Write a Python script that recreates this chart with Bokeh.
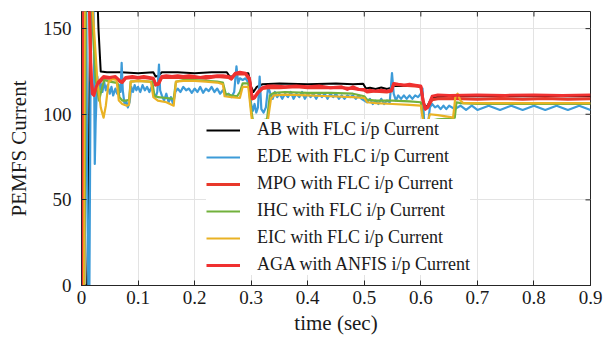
from bokeh.plotting import figure
from bokeh.models import Legend, LegendItem, FixedTicker
from bokeh.embed import file_html
from bokeh.resources import INLINE

# ---------------- data ----------------
x_ticks = [0, 0.1, 0.2, 0.3, 0.4, 0.5, 0.6, 0.7, 0.8, 0.9]
x_tick_labels = ["0", "0.1", "0.2", "0.3", "0.4", "0.5", "0.6", "0.7", "0.8", "0.9"]
y_ticks = [0, 50, 100, 150]
y_tick_labels = ["0", "50", "100", "150"]
x_title = "time (sec)"
y_title = "PEMFS Current"

series_names = ["AB with FLC i/p Current", "EDE with FLC i/p Current",
                "MPO with FLC i/p Current", "IHC with FLC i/p Current",
                "EIC with FLC i/p Current", "AGA with ANFIS i/p Current"]

ab_t = [0, 0.010, 0.013, 0.016, 0.025, 0.030, 0.034, 0.045, 0.07, 0.10, 0.127, 0.131, 0.136, 0.142,
        0.17, 0.20, 0.23, 0.257, 0.262, 0.268, 0.272, 0.295, 0.300, 0.304, 0.31, 0.32, 0.35, 0.40,
        0.45, 0.48, 0.498, 0.503, 0.51, 0.52, 0.53, 0.54, 0.548, 0.552, 0.58, 0.60, 0.605, 0.61,
        0.62, 0.65, 0.7, 0.8, 0.9]
ab_v = [0, 0, 60, 200, 200, 150, 125, 124.5, 124.5, 124, 124.5, 122, 122.5, 124.5,
        124.5, 124, 124.5, 124.5, 122, 122, 124, 124, 116, 113, 116, 117.5, 118, 117.5,
        118, 117.5, 117.8, 115, 115.5, 114.8, 115.6, 114.8, 115.5, 116.5, 116.5, 116.5, 106, 104,
        110, 110.5, 110.5, 110.5, 110.5]

ede_t = [0, 0.002, 0.004, 0.008, 0.010, 0.012, 0.014, 0.016, 0.018, 0.020, 0.022, 0.0235, 0.025,
         0.028, 0.031, 0.034, 0.037, 0.040, 0.043, 0.046, 0.05, 0.053, 0.056, 0.06, 0.063, 0.066,
         0.069, 0.071, 0.073, 0.076, 0.079, 0.082, 0.085, 0.088, 0.091, 0.094, 0.097, 0.10, 0.104,
         0.108, 0.112, 0.116, 0.12, 0.124, 0.128, 0.131, 0.134, 0.137, 0.139, 0.142, 0.146, 0.15,
         0.154, 0.158, 0.162, 0.166, 0.17, 0.175, 0.18, 0.185, 0.19, 0.195, 0.20, 0.205, 0.21,
         0.215, 0.22, 0.225, 0.23, 0.235, 0.24, 0.245, 0.25, 0.255, 0.26, 0.265, 0.27, 0.274,
         0.277, 0.28, 0.285, 0.29, 0.296, 0.30, 0.303, 0.306, 0.309, 0.312, 0.315, 0.318, 0.322,
         0.326, 0.33, 0.334, 0.338, 0.342, 0.346, 0.35, 0.355, 0.36, 0.365, 0.37, 0.375, 0.38,
         0.385, 0.39, 0.395, 0.40, 0.405, 0.41, 0.415, 0.42, 0.425, 0.43, 0.435, 0.44, 0.445,
         0.45, 0.455, 0.46, 0.465, 0.47, 0.475, 0.48, 0.485, 0.49, 0.495, 0.50, 0.505, 0.51,
         0.515, 0.52, 0.525, 0.53, 0.535, 0.54, 0.545, 0.549, 0.552, 0.556, 0.56, 0.565, 0.57,
         0.575, 0.58, 0.585, 0.59, 0.595, 0.60, 0.603, 0.606, 0.609, 0.612, 0.616, 0.62, 0.625,
         0.63, 0.635, 0.64, 0.645, 0.65, 0.66, 0.67, 0.68, 0.69, 0.70, 0.72, 0.74, 0.76, 0.78,
         0.80, 0.82, 0.84, 0.86, 0.88, 0.90]
ede_v = [0, 150, 200, 200, 60, 0, 0, 120, 200, 200, 140, 71, 95,
         122, 112, 118, 113, 119, 114, 117, 112, 116, 111, 115, 112, 117,
         113, 130, 114, 106, 108, 104, 107, 116, 113, 117, 114, 116, 113,
         117, 114, 116, 113, 116, 112, 110, 113, 129, 114, 111, 108, 112,
         107, 110, 106, 113, 115, 113, 116, 114, 115, 112.5, 115, 113, 116,
         112.5, 115, 113.5, 116, 113, 115, 112, 114, 111, 112, 110, 113, 128,
         118, 121, 120, 121, 118, 106, 102, 106, 101, 104, 122, 103, 101,
         104, 116, 112, 109, 113, 110, 112, 109, 112, 110, 113, 109, 112,
         110, 113, 109, 112, 110, 112, 109, 112, 110, 112, 109, 112, 110,
         112, 109, 111, 109, 111, 110, 111, 109, 111, 109, 108, 107, 109,
         106, 108, 106, 109, 106, 108, 107, 124, 112, 108, 111, 109, 111,
         109, 111, 109, 111, 110, 112, 115, 95, 88, 92, 104, 106, 104,
         105, 103, 105, 103, 105, 103, 105, 102.5, 105, 102.5, 105, 102.5, 105, 102.5,
         105, 102.5, 105, 102.5, 105, 102.5]

mpo_t = [0, 0.004, 0.006, 0.012, 0.017, 0.020, 0.025, 0.030, 0.039, 0.05, 0.06, 0.068, 0.072,
         0.078, 0.09, 0.10, 0.11, 0.12, 0.127, 0.131, 0.136, 0.142, 0.16, 0.18, 0.20, 0.22, 0.24,
         0.26, 0.265, 0.272, 0.29, 0.297, 0.302, 0.306, 0.312, 0.32, 0.33, 0.35, 0.38, 0.40, 0.43,
         0.46, 0.48, 0.50, 0.505, 0.52, 0.54, 0.548, 0.552, 0.57, 0.59, 0.60, 0.604, 0.608, 0.612,
         0.62, 0.63, 0.66, 0.70, 0.74, 0.78, 0.82, 0.86, 0.9]
mpo_v = [0, 0, 200, 200, 120, 113, 114, 118, 121, 121, 121.5, 119, 118.5,
         121, 121.5, 121, 121.5, 121, 120.5, 117, 117.5, 121.5, 121.5, 121.5, 121.5, 121, 122,
         121.5, 120.5, 123.5, 123.5, 120, 109, 109.5, 112.5, 115, 115.5, 115.5, 116, 115.5, 115.5,
         115.5, 115, 114, 113, 113.5, 113, 113.5, 117.5, 117, 116.5, 116, 107.5, 103, 104,
         108.5, 109, 109.2, 108.8, 109.2, 108.8, 109.2, 108.8, 109]

ihc_t = [0, 0.005, 0.008, 0.014, 0.02, 0.025, 0.031, 0.036, 0.040, 0.05, 0.06, 0.064, 0.067, 0.072,
         0.08, 0.084, 0.087, 0.10, 0.12, 0.125, 0.129, 0.135, 0.15, 0.163, 0.167, 0.18, 0.20, 0.22,
         0.24, 0.25, 0.255, 0.265, 0.275, 0.28, 0.285, 0.295, 0.30, 0.303, 0.31, 0.32, 0.328,
         0.333, 0.34, 0.36, 0.40, 0.44, 0.48, 0.50, 0.505, 0.52, 0.55, 0.58, 0.60, 0.604, 0.608,
         0.615, 0.63, 0.65, 0.66, 0.663, 0.67, 0.7, 0.8, 0.9]
ihc_v = [0, 0, 200, 200, 150, 120, 108, 115, 120, 119, 118.5, 118, 110, 108,
         108, 108.5, 119, 119.5, 119, 119, 111, 110, 109.5, 109, 119, 120, 120, 119.5,
         119, 118.5, 112, 111, 110.5, 113, 118, 118, 103, 96.5, 96.5, 96.5, 97,
         111, 112.5, 113, 112.5, 112.5, 112, 110.5, 108.5, 108, 108, 107.5, 107, 98, 90.5,
         96, 97, 97.5, 98, 107, 106.5, 106, 106, 106]

eic_t = [0, 0.004, 0.006, 0.015, 0.017, 0.022, 0.028, 0.034, 0.039, 0.043, 0.048, 0.055, 0.062,
         0.066, 0.072, 0.08, 0.084, 0.087, 0.10, 0.12, 0.123, 0.127, 0.135, 0.15, 0.163, 0.167,
         0.18, 0.20, 0.22, 0.24, 0.25, 0.253, 0.265, 0.28, 0.285, 0.295, 0.30, 0.303, 0.31, 0.32,
         0.328, 0.335, 0.34, 0.36, 0.40, 0.44, 0.48, 0.50, 0.505, 0.52, 0.55, 0.58, 0.60, 0.604,
         0.608, 0.612, 0.616, 0.63, 0.65, 0.657, 0.661, 0.665, 0.67, 0.675, 0.7, 0.8, 0.9]
eic_v = [0, 0, 200, 200, 175, 150, 120, 104, 98, 105, 119, 120.5, 120,
         108, 106, 105, 105.5, 119, 119.5, 119, 118.5, 110, 108, 107, 105, 119,
         119.5, 119.5, 119, 118.5, 117.5, 110.5, 110, 109.5, 116, 116, 100, 93, 92.5, 92.5,
         93, 109, 111, 111.5, 111, 110.5, 110, 109.5, 107, 106.5, 106, 105.5, 105, 96,
         89.5, 95, 100, 99.5, 98.5, 98, 110, 112, 108, 106.5, 106.5, 106.5, 106.5]

aga_t = [0, 0.002, 0.012, 0.016, 0.019, 0.022, 0.026, 0.030, 0.039, 0.05, 0.06, 0.068, 0.072,
         0.078, 0.09, 0.10, 0.11, 0.12, 0.127, 0.131, 0.136, 0.142, 0.15, 0.16, 0.17, 0.18, 0.19,
         0.20, 0.21, 0.22, 0.23, 0.24, 0.25, 0.26, 0.265, 0.272, 0.28, 0.29, 0.297, 0.302, 0.306,
         0.312, 0.32, 0.33, 0.34, 0.36, 0.38, 0.40, 0.42, 0.44, 0.46, 0.47, 0.48, 0.49, 0.50,
         0.505, 0.51, 0.52, 0.53, 0.54, 0.548, 0.552, 0.56, 0.57, 0.58, 0.59, 0.60, 0.604, 0.608,
         0.612, 0.62, 0.63, 0.65, 0.70, 0.75, 0.80, 0.85, 0.90]
aga_v = [0, 200, 200, 130, 112, 111, 116, 119, 122, 121.5, 122, 119.5, 119,
         121.5, 122, 121.5, 122, 121.5, 121, 117.5, 118, 122, 122.5, 122, 122.5, 122, 122.5,
         122, 121.5, 122, 122, 122.5, 122.5, 122, 121, 124, 124.5, 124, 121, 109, 110,
         113, 115.5, 116.5, 116.5, 116, 116.5, 116, 116.5, 115.5, 116, 114.5, 116, 114.5, 114.5,
         113.5, 114, 113.5, 114, 113.5, 114, 118, 117.5, 117, 117.5, 117, 116.5, 108, 103,
         104, 110.5, 111.2, 111, 111.3, 111, 111.3, 111, 111.2]

colors = ["#000000", "#3d9bd8", "#e8382a", "#72b13c", "#e9b224", "#f03030"]
widths = [2, 2.2, 3, 2.2, 2.2, 3]

# ---------------- figure ----------------
FONT = "Liberation Serif"
TXT = "#1a1a1a"
AX = "#262626"
p = figure(width=604, height=340, x_range=(0, 0.9), y_range=(0, 160),
           output_backend="svg", toolbar_location=None,
           min_border_left=81, min_border_right=14, min_border_top=11, min_border_bottom=55)
p.background_fill_color = "white"
p.border_fill_color = "white"
p.outline_line_color = AX
p.outline_line_width = 1

p.xgrid.ticker = FixedTicker(ticks=x_ticks)
p.ygrid.ticker = FixedTicker(ticks=y_ticks)
p.grid.grid_line_color = "#e3e3e3"
p.grid.grid_line_width = 1

data = [(ab_t, ab_v), (ede_t, ede_v), (mpo_t, mpo_v), (ihc_t, ihc_v), (eic_t, eic_v), (aga_t, aga_v)]
renderers = []
for (tt, vv), c, w in zip(data, colors, widths):
    r = p.line(tt, vv, line_color=c, line_width=w, line_join="round")
    renderers.append(r)

# inward tick marks on the top and right edges of the box (MATLAB style)
tick_len_y = 5 * 160 / 274.0
tick_len_x = 5 * 0.9 / 509.0
p.segment(x0=x_ticks, y0=[160] * len(x_ticks), x1=x_ticks, y1=[160 - tick_len_y] * len(x_ticks),
          line_color=AX, line_width=1)
p.segment(x0=[0.9] * len(y_ticks), y0=y_ticks, x1=[0.9 - tick_len_x] * len(y_ticks), y1=y_ticks,
          line_color=AX, line_width=1)

# axes
for ax in [p.xaxis[0], p.yaxis[0]]:
    ax.axis_line_color = AX
    ax.major_tick_line_color = AX
    ax.major_tick_in = 5
    ax.major_tick_out = 0
    ax.minor_tick_line_color = None
    ax.major_label_text_font = FONT
    ax.major_label_text_font_size = "19px"
    ax.major_label_text_color = TXT
    ax.axis_label_text_font = FONT
    ax.axis_label_text_font_size = "21px"
    ax.axis_label_text_font_style = "normal"
    ax.axis_label_text_color = TXT

p.xaxis[0].ticker = FixedTicker(ticks=x_ticks)
p.xaxis[0].major_label_overrides = {t: s for t, s in zip(x_ticks, x_tick_labels)}
p.xaxis[0].axis_label = x_title
p.xaxis[0].major_label_standoff = 5
p.xaxis[0].axis_label_standoff = 4

p.yaxis[0].ticker = FixedTicker(ticks=y_ticks)
p.yaxis[0].major_label_overrides = {t: s for t, s in zip(y_ticks, y_tick_labels)}
p.yaxis[0].axis_label = y_title
p.yaxis[0].major_label_standoff = 10
p.yaxis[0].axis_label_standoff = 9

legend = Legend(items=[LegendItem(label=n, renderers=[r]) for n, r in zip(series_names, renderers)],
                location=(125, 10))
legend.label_text_font = FONT
legend.label_text_font_size = "18px"
legend.label_text_color = TXT
legend.glyph_width = 34
legend.glyph_height = 20
legend.label_height = 20
legend.spacing = 6
legend.padding = 5
legend.margin = 0
legend.label_standoff = 17
legend.border_line_color = None
legend.background_fill_color = "white"
legend.background_fill_alpha = 1
p.add_layout(legend)

open("out.html", "w").write(file_html(p, INLINE))
